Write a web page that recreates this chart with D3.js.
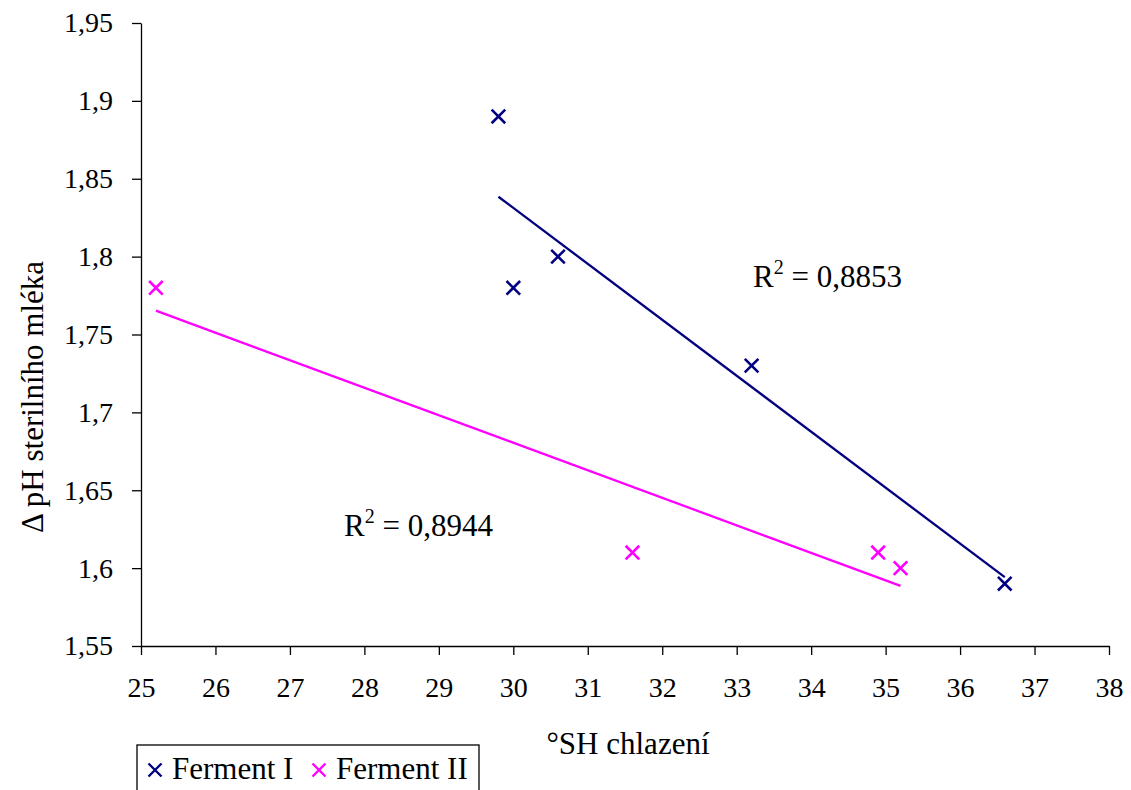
<!DOCTYPE html>
<html>
<head>
<meta charset="utf-8">
<script src="https://cdn.jsdelivr.net/npm/d3@7"></script>
<style>
  html, body { margin: 0; padding: 0; background: #fff; }
  svg { display: block; font-family: "Liberation Serif", "Times New Roman", serif; }
</style>
</head>
<body>
<svg id="chart" width="1131" height="790"></svg>
<script>
// Ferment I measurements
const f1X = [29.8, 30.0, 30.6, 33.2, 36.6];
const f1Y = [1.89, 1.78, 1.80, 1.73, 1.59];
// Ferment II measurements
const f2X = [25.2, 31.6, 34.9, 35.2];
const f2Y = [1.78, 1.61, 1.61, 1.60];

const seriesNames = ["Ferment I", "Ferment II"];
const seriesColors = ["#000080", "#ff00ff"];
const xTicks = [25, 26, 27, 28, 29, 30, 31, 32, 33, 34, 35, 36, 37, 38];
const yTicks = [1.55, 1.6, 1.65, 1.7, 1.75, 1.8, 1.85, 1.9, 1.95];

const svg = d3.select("#chart");
const plotLeft = 141, plotRight = 1109, plotTop = 23, plotBottom = 646;
const tickFont = "28px", textFont = "31px";

const x = d3.scaleLinear().domain([25, 38]).range([plotLeft, plotRight]);
const y = d3.scaleLinear().domain([1.55, 1.95]).range([plotBottom, plotTop]);

const fmt = v => String(v).replace(".", ",");

// axes
const xAxis = svg.append("g")
  .attr("transform", `translate(0,${plotBottom})`)
  .call(d3.axisBottom(x).tickValues(xTicks).tickFormat(d => d).tickSize(9).tickSizeOuter(0).tickPadding(22));
const yAxis = svg.append("g")
  .attr("transform", `translate(${plotLeft},0)`)
  .call(d3.axisLeft(y).tickValues(yTicks).tickFormat(fmt).tickSize(9).tickSizeOuter(0).tickPadding(19));
[xAxis, yAxis].forEach(a => {
  a.select(".domain").attr("stroke", "#000").attr("stroke-width", 1.3);
  a.selectAll(".tick line").attr("stroke", "#000").attr("stroke-width", 1.3);
  a.selectAll(".tick text").attr("fill", "#000").style("font-size", tickFont)
    .style("font-family", "'Liberation Serif', 'Times New Roman', serif");
});
xAxis.selectAll(".tick text").attr("dy", "0.71em");

// linear regression helper
function fit(xs, ys) {
  const n = xs.length;
  const mx = d3.mean(xs), my = d3.mean(ys);
  let sxy = 0, sxx = 0, syy = 0;
  for (let i = 0; i < n; i++) {
    sxy += (xs[i] - mx) * (ys[i] - my);
    sxx += (xs[i] - mx) ** 2;
    syy += (ys[i] - my) ** 2;
  }
  const slope = sxy / sxx;
  return { slope, intercept: my - slope * mx, r2: (sxy * sxy) / (sxx * syy) };
}

const series = [
  { xs: f1X, ys: f1Y, color: seriesColors[0], label: [753, 287] },
  { xs: f2X, ys: f2Y, color: seriesColors[1], label: [344, 536] }
];

const line = d3.line().x(d => x(d[0])).y(d => y(d[1]));

series.forEach(s => {
  const f = fit(s.xs, s.ys);
  const x0 = d3.min(s.xs), x1 = d3.max(s.xs);
  svg.append("path")
    .attr("d", line([[x0, f.intercept + f.slope * x0], [x1, f.intercept + f.slope * x1]]))
    .attr("stroke", s.color).attr("stroke-width", 2.3).attr("fill", "none");

  const pts = s.xs.map((v, i) => [v, s.ys[i]]);
  const r = 6.8;
  svg.append("g").selectAll("path").data(pts).join("path")
    .attr("d", d => `M${x(d[0]) - r},${y(d[1]) - r}L${x(d[0]) + r},${y(d[1]) + r}M${x(d[0]) - r},${y(d[1]) + r}L${x(d[0]) + r},${y(d[1]) - r}`)
    .attr("stroke", s.color).attr("stroke-width", 2.6).attr("fill", "none");

  const t = svg.append("text")
    .attr("x", s.label[0]).attr("y", s.label[1])
    .style("font-size", textFont).attr("fill", "#000");
  t.append("tspan").text("R");
  t.append("tspan").attr("dy", -13).style("font-size", "20px").text("2");
  t.append("tspan").attr("dy", 13).text(" = " + f.r2.toFixed(4).replace(".", ","));
});

// axis titles
svg.append("text")
  .attr("x", 628).attr("y", 754).attr("text-anchor", "middle")
  .style("font-size", textFont).attr("fill", "#000")
  .text("°SH chlazení");
svg.append("text")
  .attr("transform", "translate(43,397) rotate(-90)").attr("text-anchor", "middle")
  .style("font-size", textFont).attr("fill", "#000")
  .text("Δ pH sterilního mléka");

// legend
const legend = svg.append("g");
legend.append("rect")
  .attr("x", 137).attr("y", 745).attr("width", 342).attr("height", 60)
  .attr("fill", "#fff").attr("stroke", "#000").attr("stroke-width", 1.3);
const legendX = [155, 319];
seriesNames.forEach((name, i) => {
  const cx = legendX[i], cy = 770, r = 6.5;
  legend.append("path")
    .attr("d", `M${cx - r},${cy - r}L${cx + r},${cy + r}M${cx - r},${cy + r}L${cx + r},${cy - r}`)
    .attr("stroke", seriesColors[i]).attr("stroke-width", 2.4).attr("fill", "none");
  legend.append("text")
    .attr("x", cx + 17).attr("y", 779)
    .style("font-size", textFont).attr("fill", "#000")
    .text(name);
});
</script>
</body>
</html>
